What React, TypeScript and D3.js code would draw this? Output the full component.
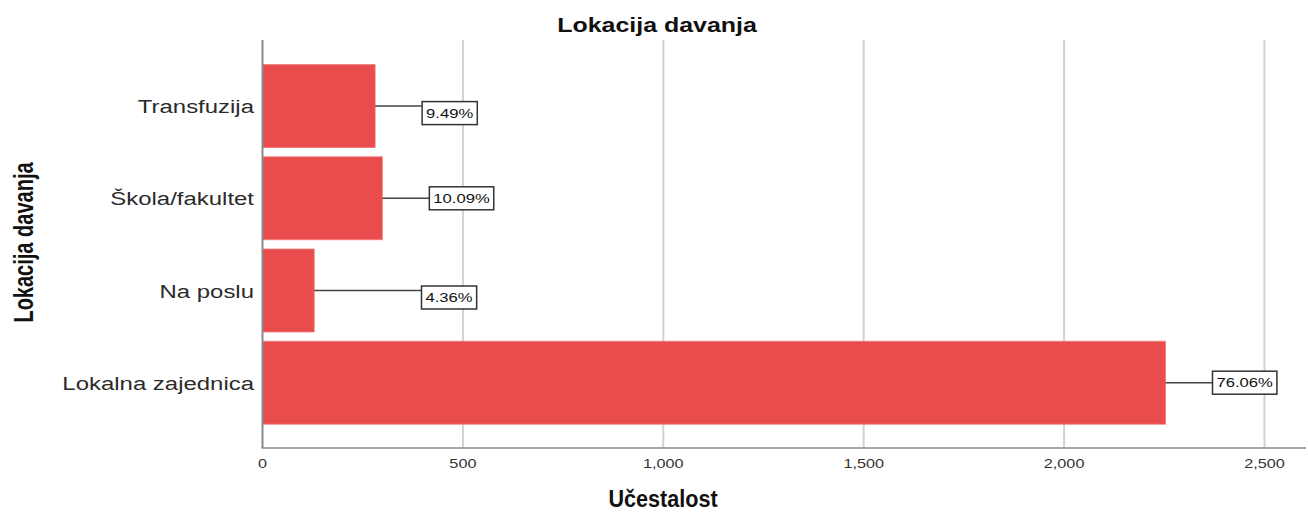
import React, { useEffect, useRef } from "react";
import * as d3 from "d3";

const title = "Lokacija davanja";
const categories = ["Transfuzija", "Škola/fakultet", "Na poslu", "Lokalna zajednica"];
const counts = [281, 299, 129, 2253];
const xTicks = [0, 500, 1000, 1500, 2000, 2500];
const xAxisTitle = "Učestalost";
const yAxisTitle = "Lokacija davanja";

// label vertical shift (layout only)
const labelShift = [7, 0, 7, 0];

const W = 1308;
const H = 512;
const FONT = "'Liberation Sans', Arial, sans-serif";

export default function App() {
  const ref = useRef<SVGSVGElement | null>(null);

  useEffect(() => {
    const svg = d3.select(ref.current);
    svg.selectAll("*").remove();

    const total = d3.sum(counts);
    const x = d3.scaleLinear().domain([0, 2500]).range([262.5, 1264.5]);
    const y = d3
      .scaleBand<string>()
      .domain(categories)
      .range([60, 428.8])
      .paddingInner(0.1)
      .paddingOuter(0.05);

    const plotTop = 40;
    const plotBottom = 448;
    const plotRight = 1306;

    const stext = (
      g: any,
      tx: number,
      ty: number,
      sx: number,
      str: string,
      size: number,
      anchor: string,
      weight = "normal",
      fill = "#222",
      rot = 0,
      sy = 1
    ) =>
      g
        .append("text")
        .attr("transform", `translate(${tx},${ty}) rotate(${rot}) scale(${sx},${sy})`)
        .attr("text-anchor", anchor)
        .attr("font-family", FONT)
        .attr("font-size", size)
        .attr("font-weight", weight)
        .attr("fill", fill)
        .text(str);

    // gridlines
    svg
      .append("g")
      .selectAll("line")
      .data(xTicks.filter((t) => t > 0))
      .join("line")
      .attr("x1", (d) => x(d))
      .attr("x2", (d) => x(d))
      .attr("y1", plotTop)
      .attr("y2", plotBottom)
      .attr("stroke", "#d2d2d2")
      .attr("stroke-width", 2);

    // bars
    svg
      .append("g")
      .selectAll("rect")
      .data(categories)
      .join("rect")
      .attr("x", x(0))
      .attr("y", (d) => y(d)!)
      .attr("width", (d, i) => x(counts[i]) - x(0))
      .attr("height", y.bandwidth())
      .attr("fill", "#e84c4c")
      .attr("stroke", "#f07c7c")
      .attr("stroke-width", 0.8);

    // axes lines
    svg
      .append("line")
      .attr("x1", x(0))
      .attr("x2", x(0))
      .attr("y1", plotTop)
      .attr("y2", plotBottom)
      .attr("stroke", "#8a8a8a")
      .attr("stroke-width", 2);
    svg
      .append("line")
      .attr("x1", x(0) - 1)
      .attr("x2", plotRight)
      .attr("y1", plotBottom)
      .attr("y2", plotBottom)
      .attr("stroke", "#8a8a8a")
      .attr("stroke-width", 1.5);

    // tick labels
    const fmt = d3.format(",");
    xTicks.forEach((t) => {
      stext(svg, x(t), 468, 1.3, fmt(t), 12.5, "middle", "normal", "#333");
    });

    // category labels
    categories.forEach((c) => {
      stext(svg, 254, y(c)! + y.bandwidth() / 2 + 7, 1.26, c, 19, "end", "normal", "#2b2b2b");
    });

    // percentage labels with leader lines
    categories.forEach((c, i) => {
      const endX = x(counts[i]);
      const cy = y(c)! + y.bandwidth() / 2;
      const pct = ((counts[i] / total) * 100).toFixed(2) + "%";
      const left = Math.max(endX + 47, x(0) + 159);
      const g = svg.append("g");
      g.append("line")
        .attr("x1", endX)
        .attr("x2", left)
        .attr("y1", cy)
        .attr("y2", cy)
        .attr("stroke", "#444")
        .attr("stroke-width", 1.5);
      const boxCy = cy + labelShift[i];
      const rect = g.append("rect");
      const t = stext(g, left + 4, boxCy + 4.6, 1.28, pct, 13, "start", "normal", "#111");
      const w = (t.node() as SVGTextElement).getBBox().width * 1.28;
      rect
        .attr("x", left)
        .attr("y", boxCy - 11.5)
        .attr("width", w + 8)
        .attr("height", 23)
        .attr("fill", "#fff")
        .attr("stroke", "#333")
        .attr("stroke-width", 1.5);
    });

    // title
    stext(svg, 657, 32, 1.28, title, 19.5, "middle", "bold", "#111");
    // x axis title
    stext(svg, 663, 506.5, 0.9, xAxisTitle, 24, "middle", "bold", "#111");
    // y axis title
    stext(svg, 33, 242.5, 0.91, yAxisTitle, 22, "middle", "bold", "#111", -90, 1.28);
  }, []);

  return (
    <svg
      ref={ref}
      width={W}
      height={H}
      style={{ position: "absolute", left: 0, top: 0, background: "#fff" }}
    />
  );
}
